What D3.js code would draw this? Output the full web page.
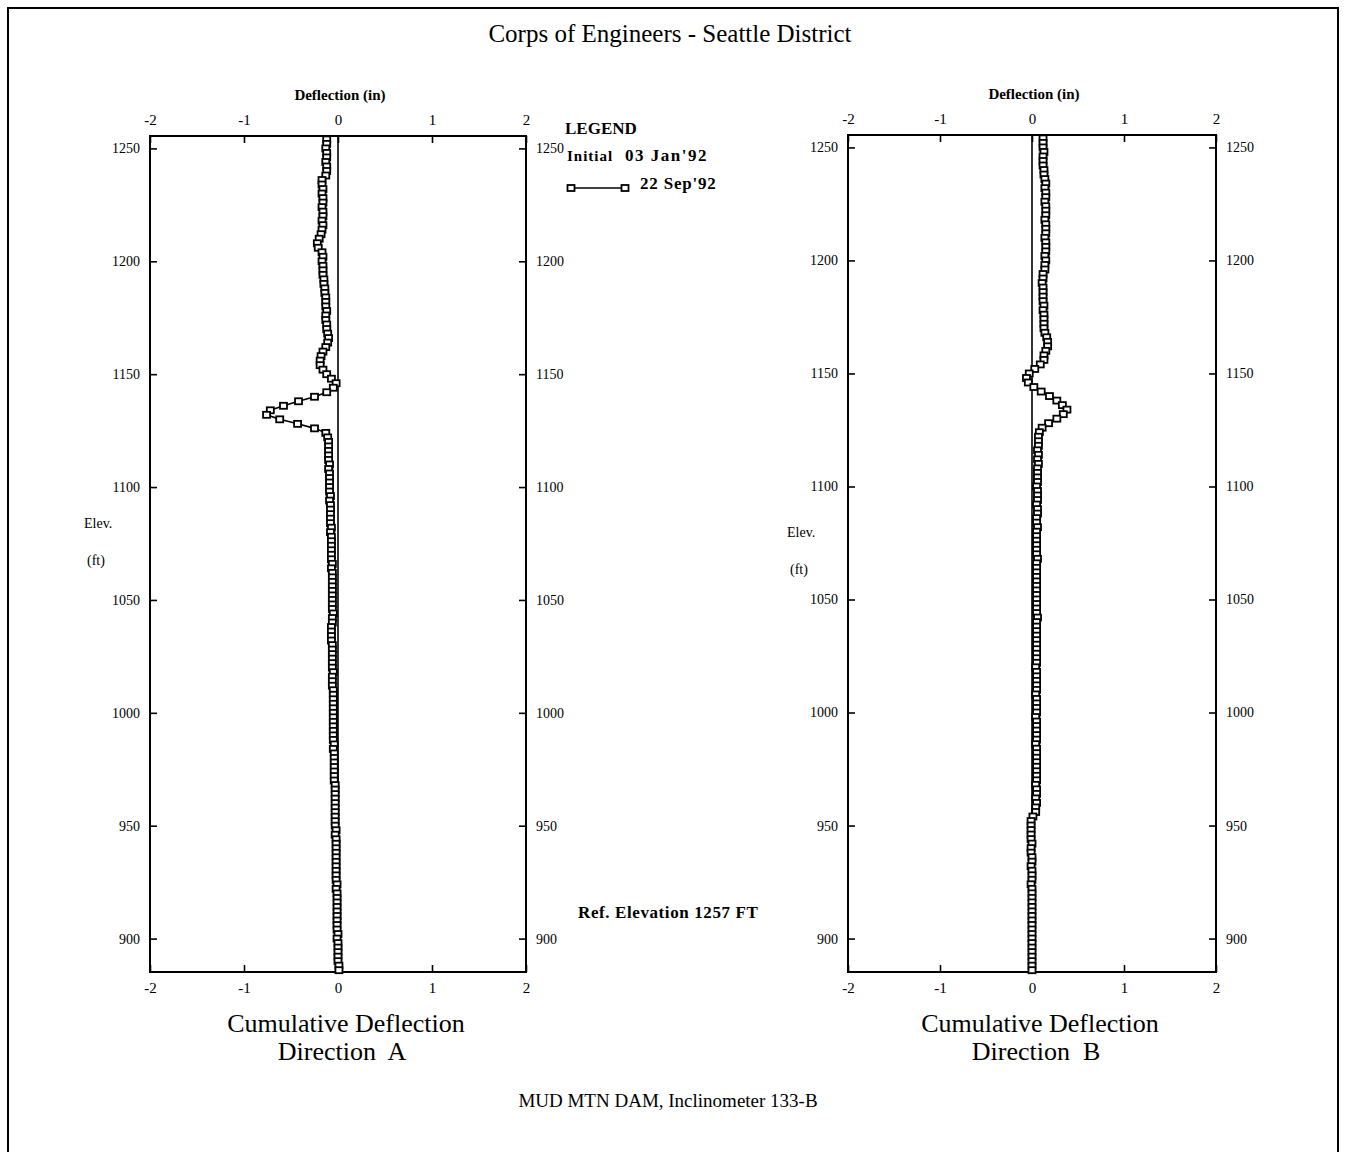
<!DOCTYPE html>
<html>
<head>
<meta charset="utf-8">
<script src="https://cdn.jsdelivr.net/npm/d3@7"></script>
<style>
body { margin: 0; background: #fff; }
text { font-family: "Liberation Serif", "DejaVu Serif", serif; fill: #000; }
</style>
</head>
<body>
<div id="chart"></div>
<script>
var width = 1346;
var height = 1152;

// axis ticks
var xTicks = [-2, -1, 0, 1, 2];
var yTicks = [900, 950, 1000, 1050, 1100, 1150, 1200, 1250];

// readings every 2 ft starting at elevation 1254
var elevStart = 1254;
var elevStep = 2;

// 22 Sep'92 cumulative deflection (in), direction A
var dirA = [
  -0.12,-0.12,-0.13,-0.12,-0.12,-0.13,-0.12,-0.12,-0.13,-0.17,
  -0.17,-0.16,-0.17,-0.16,-0.16,-0.17,-0.16,-0.16,-0.17,-0.16,
  -0.17,-0.18,-0.20,-0.22,-0.21,-0.17,-0.16,-0.17,-0.16,-0.16,
  -0.16,-0.15,-0.15,-0.14,-0.14,-0.13,-0.13,-0.13,-0.12,-0.13,
  -0.13,-0.12,-0.12,-0.11,-0.10,-0.11,-0.13,-0.16,-0.18,-0.19,
  -0.19,-0.16,-0.12,-0.07,-0.02,-0.05,-0.12,-0.25,-0.42,-0.58,
  -0.72,-0.76,-0.62,-0.43,-0.25,-0.13,-0.11,-0.10,-0.10,-0.10,
  -0.10,-0.10,-0.09,-0.10,-0.09,-0.09,-0.09,-0.09,-0.09,-0.08,
  -0.09,-0.08,-0.08,-0.08,-0.08,-0.08,-0.07,-0.08,-0.07,-0.07,
  -0.07,-0.07,-0.07,-0.07,-0.06,-0.07,-0.06,-0.06,-0.06,-0.06,
  -0.06,-0.06,-0.06,-0.06,-0.06,-0.05,-0.06,-0.06,-0.07,-0.07,
  -0.07,-0.07,-0.06,-0.06,-0.06,-0.06,-0.06,-0.06,-0.05,-0.06,
  -0.06,-0.06,-0.05,-0.05,-0.05,-0.05,-0.05,-0.05,-0.05,-0.05,
  -0.05,-0.05,-0.05,-0.05,-0.04,-0.05,-0.04,-0.04,-0.04,-0.04,
  -0.04,-0.04,-0.04,-0.03,-0.03,-0.03,-0.03,-0.03,-0.03,-0.03,
  -0.03,-0.03,-0.03,-0.02,-0.03,-0.02,-0.02,-0.02,-0.02,-0.02,
  -0.02,-0.02,-0.02,-0.02,-0.02,-0.01,-0.02,-0.01,-0.01,-0.01,
  -0.01,-0.01,-0.01,-0.01,-0.01,-0.01,0.00,-0.01,0.00,0.00,
  0.00,0.00,0.00,0.01,0.01
];

// 22 Sep'92 cumulative deflection (in), direction B
var dirB = [
  0.12,0.12,0.12,0.13,0.12,0.12,0.12,0.13,0.13,0.14,
  0.15,0.14,0.15,0.15,0.14,0.15,0.15,0.15,0.14,0.15,
  0.15,0.15,0.14,0.15,0.15,0.15,0.14,0.15,0.14,0.14,
  0.12,0.12,0.11,0.12,0.12,0.12,0.12,0.13,0.12,0.13,
  0.13,0.13,0.13,0.14,0.16,0.17,0.17,0.15,0.13,0.13,
  0.09,0.03,-0.03,-0.06,-0.04,0.02,0.10,0.19,0.27,0.33,
  0.38,0.34,0.27,0.18,0.11,0.08,0.07,0.07,0.07,0.06,
  0.07,0.06,0.07,0.06,0.06,0.06,0.06,0.05,0.06,0.06,
  0.06,0.05,0.06,0.06,0.05,0.05,0.06,0.05,0.05,0.05,
  0.05,0.05,0.05,0.06,0.05,0.05,0.05,0.05,0.05,0.05,
  0.05,0.05,0.05,0.05,0.05,0.05,0.06,0.05,0.05,0.05,
  0.05,0.05,0.05,0.05,0.05,0.05,0.05,0.04,0.05,0.05,
  0.05,0.05,0.05,0.04,0.05,0.05,0.05,0.05,0.04,0.05,
  0.05,0.05,0.05,0.05,0.04,0.05,0.05,0.05,0.05,0.05,
  0.05,0.05,0.05,0.04,0.05,0.05,0.04,0.05,0.04,0.04,
  0.01,-0.01,-0.01,-0.01,-0.01,-0.01,0.00,-0.01,-0.01,0.00,
  0.00,-0.01,0.00,0.00,0.00,-0.01,0.00,0.00,0.00,0.00,
  0.00,0.00,0.00,0.00,0.00,0.00,0.00,0.00,0.00,0.00,
  0.00,0.00,0.00,0.00,0.00
];

// initial reading (03 Jan'92) is the zero line
var initialDefl = 0;

var svg = d3.select("#chart")
    .append("svg")
    .attr("width", width)
    .attr("height", height);

svg.append("rect").attr("width", width).attr("height", height).attr("fill", "#fff");

// page border
svg.append("path")
    .attr("d", "M8,1152 L8,8 L1338,8 L1338,1152")
    .attr("fill", "none")
    .attr("stroke", "#000")
    .attr("stroke-width", 2);

svg.append("text")
    .attr("x", 670).attr("y", 42)
    .attr("text-anchor", "middle")
    .style("font-size", "25px")
    .text("Corps of Engineers - Seattle District");

svg.append("text")
    .attr("x", 668).attr("y", 1107)
    .attr("text-anchor", "middle")
    .style("font-size", "19px")
    .text("MUD MTN DAM, Inclinometer 133-B");

function drawPanel(p){
    var x = d3.scaleLinear().domain([-2, 2]).range([p.left, p.right]);
    var y = d3.scaleLinear().domain([885.2, 1255.5]).range([p.bottom, p.top]);
    var g = svg.append("g");

    var fmt = function(d){ return String(d); };

    function styleAxis(a, size){
        a.select(".domain").remove();
        a.selectAll(".tick line").attr("stroke", "#000").attr("stroke-width", 1.6);
        a.selectAll(".tick text")
            .style("font-size", size)
            .style("font-family", "'Liberation Serif', serif")
            .attr("fill", "#000");
    }

    g.append("g").attr("transform", "translate(0," + p.top + ")")
        .call(d3.axisTop(x).tickValues(xTicks).tickFormat(fmt).tickSize(-7).tickPadding(11))
        .call(styleAxis, "15px");
    g.append("g").attr("transform", "translate(0," + p.bottom + ")")
        .call(d3.axisBottom(x).tickValues(xTicks).tickFormat(fmt).tickSize(-7).tickPadding(10))
        .call(styleAxis, "15px");
    g.append("g").attr("transform", "translate(" + p.left + ",0)")
        .call(d3.axisLeft(y).tickValues(yTicks).tickFormat(fmt).tickSize(-7).tickPadding(10))
        .call(styleAxis, "14px");
    g.append("g").attr("transform", "translate(" + p.right + ",0)")
        .call(d3.axisRight(y).tickValues(yTicks).tickFormat(fmt).tickSize(-7).tickPadding(10))
        .call(styleAxis, "14px");

    g.append("rect")
        .attr("x", p.left).attr("y", p.top)
        .attr("width", p.right - p.left).attr("height", p.bottom - p.top)
        .attr("fill", "none").attr("stroke", "#000").attr("stroke-width", 2);

    // initial line
    g.append("line")
        .attr("x1", x(initialDefl)).attr("x2", x(initialDefl))
        .attr("y1", p.top).attr("y2", p.bottom)
        .attr("stroke", "#000").attr("stroke-width", 1.6);

    var pts = p.values.map(function(v, i){ return {elev: elevStart - elevStep * i, defl: v}; });

    var line = d3.line()
        .x(function(d){ return x(d.defl); })
        .y(function(d){ return y(d.elev); });

    g.append("path")
        .datum(pts)
        .attr("d", line)
        .attr("fill", "none")
        .attr("stroke", "#000")
        .attr("stroke-width", 1.6);

    g.selectAll(".pt")
        .data(pts)
        .enter().append("rect")
        .attr("class", "pt")
        .attr("x", function(d){ return x(d.defl) - 3.5; })
        .attr("y", function(d){ return y(d.elev) - 3; })
        .attr("width", 7).attr("height", 6)
        .attr("fill", "#fff")
        .attr("stroke", "#000")
        .attr("stroke-width", 1.8);

    g.append("text")
        .attr("x", (p.left + p.right) / 2 + 2).attr("y", p.top - 36)
        .attr("text-anchor", "middle")
        .style("font-size", "15px").style("font-weight", "bold")
        .text("Deflection (in)");

    g.append("text")
        .attr("x", p.elevX).attr("y", p.elevY)
        .style("font-size", "14px")
        .text("Elev.");
    g.append("text")
        .attr("x", p.elevX + 3).attr("y", p.elevY + 37)
        .style("font-size", "14px")
        .text("(ft)");

    g.append("text")
        .attr("x", (p.left + p.right) / 2 + 8).attr("y", p.bottom + 60)
        .attr("text-anchor", "middle")
        .style("font-size", "26px")
        .text("Cumulative Deflection");
    g.append("text")
        .attr("x", (p.left + p.right) / 2 + 4).attr("y", p.bottom + 88)
        .attr("text-anchor", "middle")
        .style("font-size", "26px")
        .style("white-space", "pre")
        .text("Direction  " + p.name);
}

drawPanel({left: 150, right: 526, top: 136, bottom: 972, values: dirA, name: "A", elevX: 84, elevY: 528});
drawPanel({left: 848, right: 1216, top: 135, bottom: 972, values: dirB, name: "B", elevX: 787, elevY: 537});

// legend
var lg = svg.append("g");
lg.append("text").attr("x", 565).attr("y", 134)
    .style("font-size", "17px").style("font-weight", "bold").text("LEGEND");
lg.append("text").attr("x", 567).attr("y", 161)
    .style("font-size", "15px").style("font-weight", "bold")
    .style("letter-spacing", "1px").text("Initial");
lg.append("text").attr("x", 625).attr("y", 161)
    .style("font-size", "17px").style("font-weight", "bold")
    .style("letter-spacing", "1.5px").text("03 Jan'92");
lg.append("line").attr("x1", 571).attr("x2", 625).attr("y1", 188).attr("y2", 188)
    .attr("stroke", "#000").attr("stroke-width", 1.6);
lg.selectAll(".lpt").data([571, 625]).enter().append("rect")
    .attr("x", function(d){ return d - 3.5; }).attr("y", 185)
    .attr("width", 7).attr("height", 6)
    .attr("fill", "#fff").attr("stroke", "#000").attr("stroke-width", 1.8);
lg.append("text").attr("x", 640).attr("y", 189)
    .style("font-size", "17px").style("font-weight", "bold")
    .style("letter-spacing", "0.8px").text("22 Sep'92");

svg.append("text").attr("x", 578).attr("y", 918)
    .style("font-size", "17px").style("font-weight", "bold")
    .style("letter-spacing", "0.6px")
    .text("Ref. Elevation 1257 FT");
</script>
</body>
</html>
